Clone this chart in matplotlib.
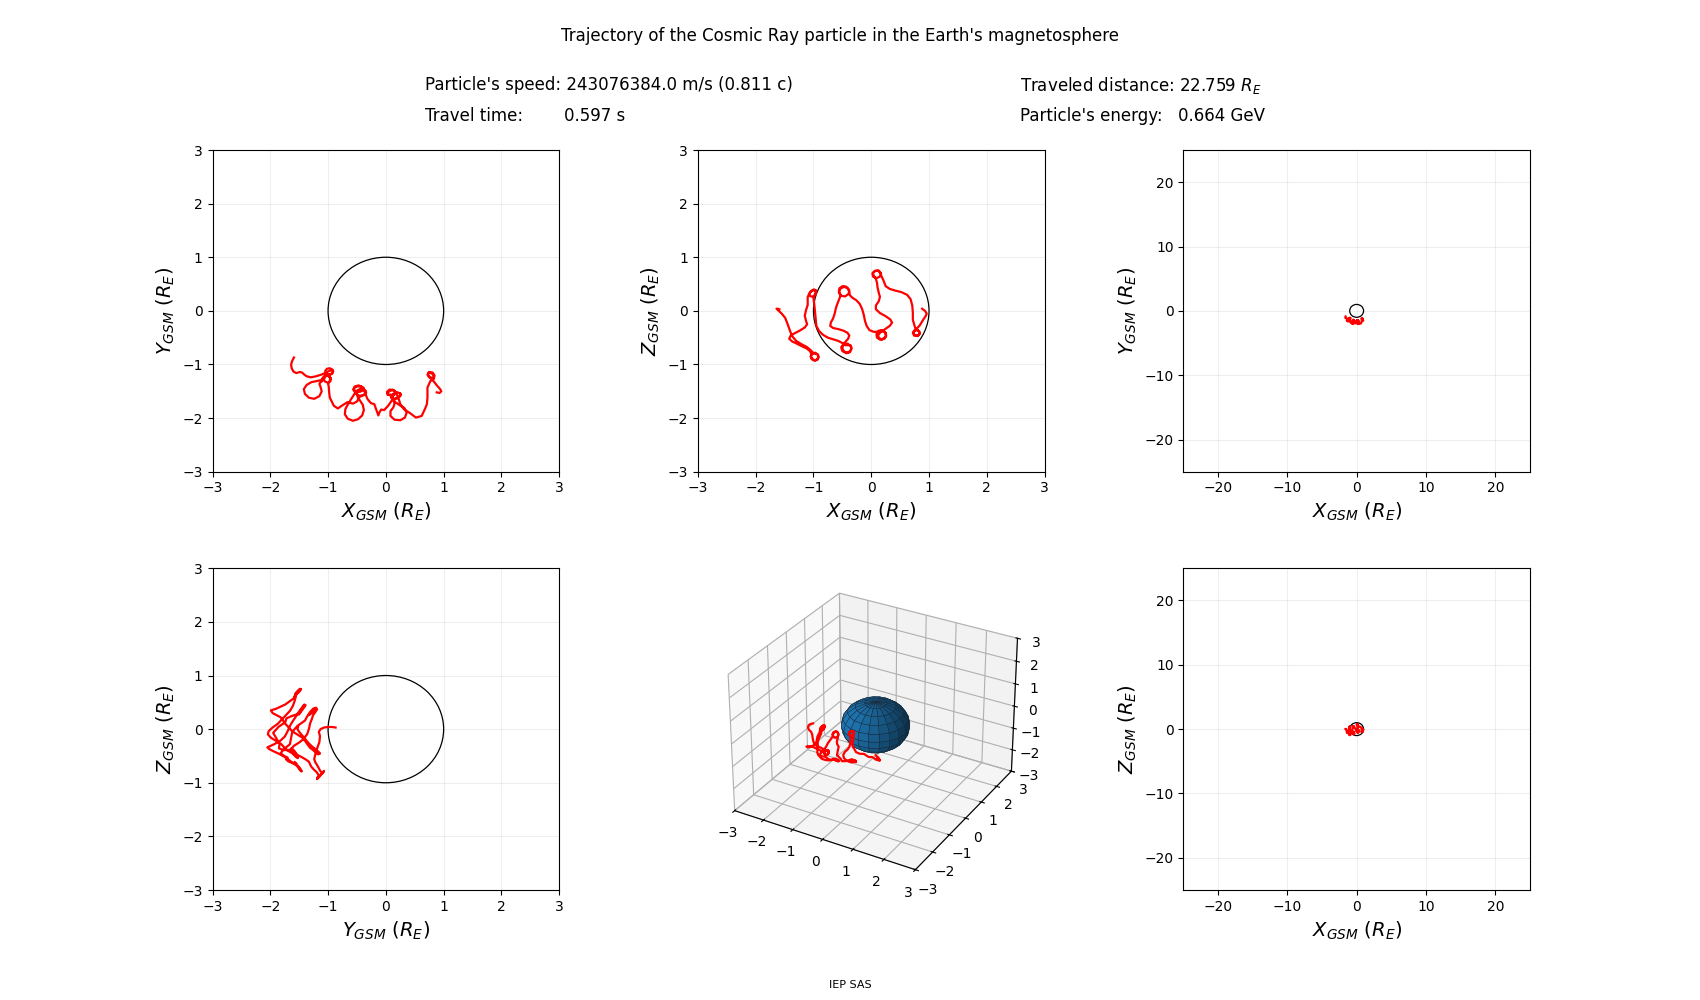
import numpy as np
import matplotlib
matplotlib.use("Agg")
import matplotlib.pyplot as plt
from matplotlib.patches import Circle

# ---------------- data ----------------
title = "Trajectory of the Cosmic Ray particle in the Earth's magnetosphere"
speed_text = "Particle's speed: 243076384.0 m/s (0.811 c)"
time_label = "Travel time:"
time_value = "0.597 s"
distance_text = "Traveled distance: 22.759 $R_E$"
energy_label = "Particle's energy:"
energy_value = "0.664 GeV"
footer = "IEP SAS"

earth_radius = 1.0
zoom_ticks = [-3, -2, -1, 0, 1, 2, 3]
wide_ticks = [-20, -10, 0, 10, 20]

# particle trajectory (GSM, Earth radii)
traj_x = [
    -1.59, -1.62, -1.64, -1.63, -1.60, -1.55, -1.49, -1.45, -1.41, -1.37, -1.30, -1.21, -1.12, -1.05, -1.00,
    -0.93, -0.91, -0.93, -0.98, -1.03, -1.05, -1.02, -0.97, -0.92, -0.92, -0.96, -1.01, -1.04, -1.04,
    -1.06, -1.12, -1.20, -1.29, -1.37, -1.42, -1.40, -1.33, -1.24, -1.15, -1.11, -1.13, -1.15, -1.13, -1.10, -1.10, -1.10,
    -1.07, -1.04, -0.99, -0.95, -0.96, -1.00, -1.05, -1.08, -1.05, -1.00, -0.96, -0.97, -1.00,
    -0.99, -0.98, -0.97, -0.96, -0.95, -0.90, -0.83, -0.75, -0.66, -0.57, -0.50, -0.45,
    -0.36, -0.34, -0.37, -0.43, -0.50, -0.52, -0.48, -0.41, -0.35, -0.35, -0.40, -0.47, -0.50,
    -0.49, -0.45, -0.40, -0.38, -0.41, -0.48, -0.57, -0.66, -0.71, -0.70, -0.66, -0.63, -0.61, -0.58, -0.55, -0.53,
    -0.56, -0.55, -0.50, -0.43, -0.38, -0.39, -0.45, -0.52, -0.56, -0.54, -0.47, -0.41, -0.38,
    -0.37, -0.32, -0.26, -0.20, -0.16, -0.13, -0.11, -0.08, -0.03, 0.04, 0.11,
    0.17, 0.24, 0.26, 0.23, 0.16, 0.10, 0.09, 0.13, 0.20, 0.25, 0.25, 0.19, 0.13,
    0.12, 0.16, 0.24, 0.32, 0.36, 0.33, 0.25, 0.15, 0.08, 0.08, 0.13, 0.15, 0.13, 0.11, 0.10, 0.08,
    0.04, 0.03, 0.07, 0.13, 0.17, 0.15, 0.09, 0.03, 0.02, 0.06, 0.12, 0.16, 0.18,
    0.21, 0.25, 0.32, 0.41, 0.52, 0.62, 0.68, 0.71, 0.72, 0.72, 0.75, 0.77,
    0.83, 0.84, 0.80, 0.74, 0.72, 0.75, 0.81, 0.84, 0.81, 0.75, 0.73,
    0.78, 0.84, 0.89, 0.94, 0.96, 0.93, 0.88,
]
traj_y = [
    -0.87, -0.93, -1.00, -1.07, -1.13, -1.16, -1.14, -1.15, -1.19, -1.22, -1.24, -1.22, -1.19, -1.16, -1.13,
    -1.10, -1.13, -1.17, -1.19, -1.17, -1.12, -1.08, -1.07, -1.10, -1.15, -1.19, -1.19, -1.16, -1.20,
    -1.25, -1.29, -1.31, -1.33, -1.38, -1.46, -1.55, -1.62, -1.64, -1.59, -1.50, -1.42, -1.36, -1.33, -1.31, -1.28, -1.26,
    -1.22, -1.19, -1.21, -1.26, -1.31, -1.34, -1.32, -1.27, -1.22, -1.21, -1.25, -1.31, -1.36,
    -1.40, -1.53, -1.62, -1.64, -1.66, -1.77, -1.82, -1.76, -1.70, -1.73, -1.69, -1.60,
    -1.56, -1.52, -1.48, -1.46, -1.49, -1.54, -1.58, -1.58, -1.54, -1.49, -1.46, -1.47, -1.52,
    -1.60, -1.67, -1.75, -1.85, -1.95, -2.02, -2.05, -2.01, -1.93, -1.83, -1.75, -1.70, -1.66, -1.61, -1.56, -1.52,
    -1.48, -1.44, -1.41, -1.41, -1.44, -1.48, -1.51, -1.50, -1.46, -1.41, -1.39, -1.42, -1.47,
    -1.50, -1.64, -1.72, -1.74, -1.86, -1.95, -1.89, -1.84, -1.85, -1.77, -1.66,
    -1.63, -1.60, -1.56, -1.53, -1.53, -1.57, -1.62, -1.65, -1.63, -1.58, -1.54, -1.52, -1.55,
    -1.62, -1.70, -1.76, -1.81, -1.90, -1.99, -2.04, -2.03, -1.96, -1.87, -1.80, -1.73, -1.66, -1.61, -1.58, -1.56,
    -1.57, -1.53, -1.49, -1.48, -1.51, -1.56, -1.58, -1.56, -1.51, -1.47, -1.47, -1.50, -1.55,
    -1.60, -1.74, -1.84, -1.90, -1.99, -1.96, -1.82, -1.74, -1.62, -1.43, -1.36, -1.31,
    -1.27, -1.22, -1.17, -1.15, -1.19, -1.24, -1.25, -1.20, -1.15, -1.14, -1.19,
    -1.26, -1.33, -1.40, -1.46, -1.50, -1.53, -1.52,
]
traj_z = [
    0.03, 0.04, 0.04, 0.03, 0.00, -0.05, -0.13, -0.24, -0.36, -0.47, -0.56, -0.62, -0.67, -0.73, -0.79,
    -0.81, -0.86, -0.91, -0.93, -0.90, -0.85, -0.80, -0.78, -0.82, -0.88, -0.92, -0.91, -0.86, -0.80,
    -0.75, -0.70, -0.66, -0.61, -0.57, -0.52, -0.47, -0.42, -0.37, -0.31, -0.25, -0.18, -0.09, 0.01, 0.11, 0.19, 0.26,
    0.32, 0.37, 0.40, 0.38, 0.32, 0.27, 0.27, 0.31, 0.36, 0.39, 0.36, 0.30, 0.24,
    0.16, 0.06, -0.05, -0.17, -0.28, -0.38, -0.45, -0.50, -0.53, -0.56, -0.60, -0.64,
    -0.64, -0.70, -0.77, -0.79, -0.75, -0.68, -0.62, -0.61, -0.66, -0.73, -0.78, -0.76, -0.70,
    -0.64, -0.58, -0.52, -0.46, -0.41, -0.37, -0.34, -0.32, -0.28, -0.22, -0.14, -0.04, 0.06, 0.15, 0.23, 0.30,
    0.36, 0.42, 0.46, 0.45, 0.39, 0.32, 0.27, 0.28, 0.34, 0.41, 0.45, 0.42, 0.36,
    0.29, 0.24, 0.20, 0.13, 0.04, -0.07, -0.18, -0.28, -0.36, -0.39, -0.39,
    -0.37, -0.40, -0.46, -0.52, -0.54, -0.50, -0.43, -0.37, -0.36, -0.41, -0.48, -0.53, -0.51,
    -0.45, -0.40, -0.34, -0.28, -0.22, -0.16, -0.10, -0.04, 0.03, 0.10, 0.18, 0.26, 0.34, 0.43, 0.52, 0.60,
    0.66, 0.71, 0.75, 0.75, 0.70, 0.64, 0.61, 0.64, 0.70, 0.74, 0.75, 0.70, 0.64,
    0.57, 0.46, 0.41, 0.38, 0.35, 0.30, 0.22, 0.10, -0.04, -0.17, -0.28, -0.35,
    -0.38, -0.43, -0.47, -0.46, -0.41, -0.36, -0.36, -0.41, -0.46, -0.45, -0.40,
    -0.34, -0.27, -0.18, -0.10, -0.05, 0.00, 0.04,
]

tx = np.array(traj_x)
ty = np.array(traj_y)
tz = np.array(traj_z)

# ---------------- figure ----------------
fig = plt.figure(figsize=(17, 10), dpi=100)
gs = fig.add_gridspec(2, 3, left=0.125, right=0.9, bottom=0.11, top=0.85,
                      wspace=0.4, hspace=0.3)

LBL = 14
TRAJ_LW = 1.6


def style2d(ax, lim, ticks):
    ax.set_xlim(-lim, lim)
    ax.set_ylim(-lim, lim)
    ax.set_xticks(ticks)
    ax.set_yticks(ticks)
    ax.grid(True, alpha=0.2)
    ax.add_patch(Circle((0, 0), earth_radius, fill=False, edgecolor='black', lw=0.9, zorder=3))


panels = [
    (gs[0, 0], tx, ty, "$X_{GSM}$ ($R_E$)", "$Y_{GSM}$ ($R_E$)", 3, zoom_ticks),
    (gs[0, 1], tx, tz, "$X_{GSM}$ ($R_E$)", "$Z_{GSM}$ ($R_E$)", 3, zoom_ticks),
    (gs[0, 2], tx, ty, "$X_{GSM}$ ($R_E$)", "$Y_{GSM}$ ($R_E$)", 25, wide_ticks),
    (gs[1, 0], ty, tz, "$Y_{GSM}$ ($R_E$)", "$Z_{GSM}$ ($R_E$)", 3, zoom_ticks),
    (gs[1, 2], tx, tz, "$X_{GSM}$ ($R_E$)", "$Z_{GSM}$ ($R_E$)", 25, wide_ticks),
]
for spec, a, b, xl, yl, lim, ticks in panels:
    ax = fig.add_subplot(spec)
    ax.plot(a, b, color='red', lw=TRAJ_LW, zorder=4)
    style2d(ax, lim, ticks)
    ax.set_xlabel(xl, fontsize=LBL)
    ax.set_ylabel(yl, fontsize=LBL)

# 3D panel
ax3 = fig.add_subplot(gs[1, 1], projection='3d')
u = np.linspace(0, 2 * np.pi, 21)
v = np.linspace(0, np.pi, 11)
sx = earth_radius * np.outer(np.cos(u), np.sin(v))
sy = earth_radius * np.outer(np.sin(u), np.sin(v))
sz = earth_radius * np.outer(np.ones_like(u), np.cos(v))
ax3.plot_surface(sx, sy, sz, color='C0', edgecolor='#1a2a3a', linewidth=0.3, shade=True)
ax3.plot(tx, ty, tz, color='red', lw=TRAJ_LW, zorder=10)
ax3.set_xlim(-3, 3)
ax3.set_ylim(-3, 3)
ax3.set_zlim(-3, 3)
ax3.set_xticks(zoom_ticks)
ax3.set_yticks(zoom_ticks)
ax3.set_zticks(zoom_ticks)
ax3.tick_params(axis='both', pad=0)

# texts
fig.text(0.494, 0.964, title, ha='center', va='center', fontsize=12)
fig.text(0.25, 0.9145, speed_text, ha='left', va='center', fontsize=12)
fig.text(0.25, 0.884, time_label, ha='left', va='center', fontsize=12)
fig.text(0.332, 0.884, time_value, ha='left', va='center', fontsize=12)
fig.text(0.6, 0.9145, distance_text, ha='left', va='center', fontsize=12)
fig.text(0.6, 0.884, energy_label, ha='left', va='center', fontsize=12)
fig.text(0.693, 0.884, energy_value, ha='left', va='center', fontsize=12)
fig.text(0.5, 0.0145, footer, ha='center', va='center', fontsize=8)

fig.savefig("out.png", dpi=100)
